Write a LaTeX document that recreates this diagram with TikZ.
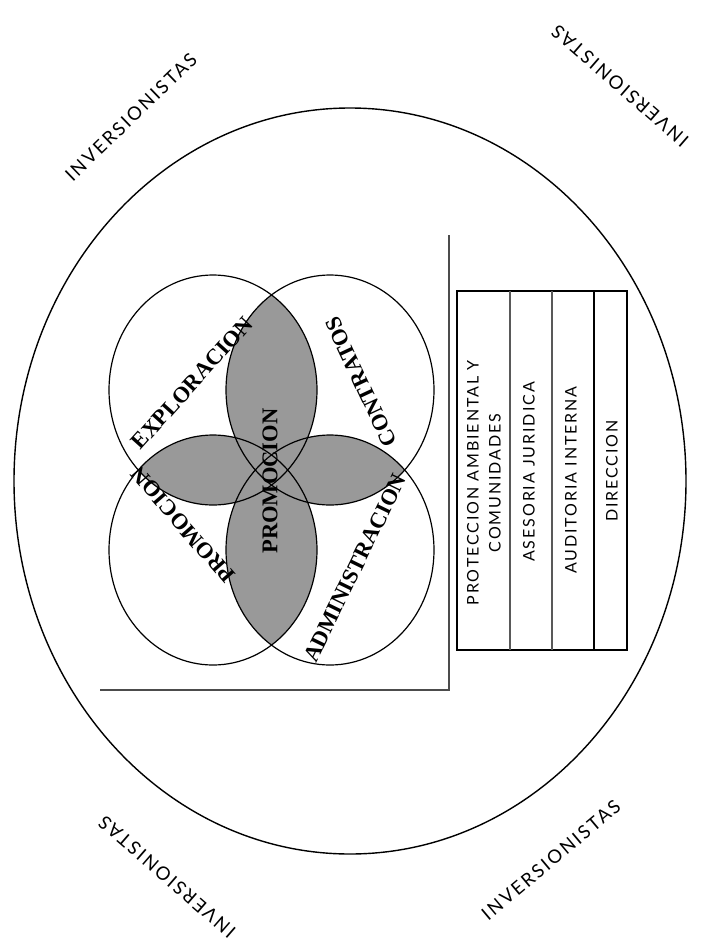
\documentclass[tikz,border=0pt]{standalone}
\usepackage{fontspec}
\setmainfont{Liberation Serif}
\newfontfamily\optfont[LetterSpace=12]{Lato}

\begin{document}
\begin{tikzpicture}[
    x=1pt,y=-1pt,
    borde/.style={line width=1.4pt},
    venn/.style={line width=1.2pt},
    lente/.style={fill=black!40},
    marco/.style={draw=black!70,line width=1.1pt},
    tabla/.style={draw,line width=2.6pt,minimum width=170pt,minimum height=359pt,inner sep=0pt},
    divgris/.style={draw=black!65,line width=1.8pt},
    divnegro/.style={draw,line width=2.6pt},
    vennlab/.style={font=\fontsize{22.5}{24}\selectfont\bfseries,inner sep=0pt},
    coltext/.style={font=\optfont\fontsize{16}{22}\selectfont,align=center,rotate=90,inner sep=0pt},
    inv/.style={font=\optfont\fontsize{18.5}{20}\selectfont,inner sep=0pt}
]
\useasboundingbox (0,0) rectangle (705,951);

\draw[borde] (350,481) ellipse [x radius=336pt, y radius=373pt];

\coordinate (cUL) at (213,390);
\coordinate (cUR) at (330,390);
\coordinate (cLL) at (213,550);
\coordinate (cLR) at (330,550);

\foreach \p/\q in {UL/UR,UL/LL,UR/LR,LL/LR,UL/LR,UR/LL}{
  \begin{scope}
    \clip (c\p) ellipse [x radius=104pt, y radius=115pt];
    \fill[lente] (c\q) ellipse [x radius=104pt, y radius=115pt];
  \end{scope}
}
\foreach \c in {UL,UR,LL,LR}
  \draw[venn] (c\c) ellipse [x radius=104pt, y radius=115pt];

\node[vennlab,rotate=48] (expl) at (192,383) {EXPLORACION};
\node[vennlab,rotate=115] (contr) at (361,382) {CONTRATOS};
\node[vennlab,rotate=131] (promo) at (183,525) {PROMOCION};
\node[vennlab,rotate=64] (admin) at (355,568) {ADMINISTRACION};
\node[vennlab,rotate=90] (promoc) at (270,481) {PROMOCION};

\coordinate (mt) at (449,235);
\coordinate (mc) at (449,690);
\coordinate (ml) at (100,690);
\draw[marco] (mt) -- (mc) -- (ml);

\node[tabla] (tab) at (542,470.5) {};
\draw[divgris] (510,291) -- (510,650);
\draw[divgris] (552,291) -- (552,650);
\draw[divnegro] (594,291) -- (594,650);

\node[coltext] (prot) at (484,483) {PROTECCION AMBIENTAL Y\\COMUNIDADES};
\node[coltext] (ases) at (529,472) {ASESORIA JURIDICA};
\node[coltext] (audi) at (571,480) {AUDITORIA INTERNA};
\node[coltext] (dire) at (612,471) {DIRECCION};

\node[inv,rotate=44] (invA) at (131,117) {INVERSIONISTAS};
\node[inv,rotate=139] (invB) at (620,86) {INVERSIONISTAS};
\node[inv,rotate=139] (invC) at (167,877) {INVERSIONISTAS};
\node[inv,rotate=40] (invD) at (551,860) {INVERSIONISTAS};
\end{tikzpicture}
\end{document}
